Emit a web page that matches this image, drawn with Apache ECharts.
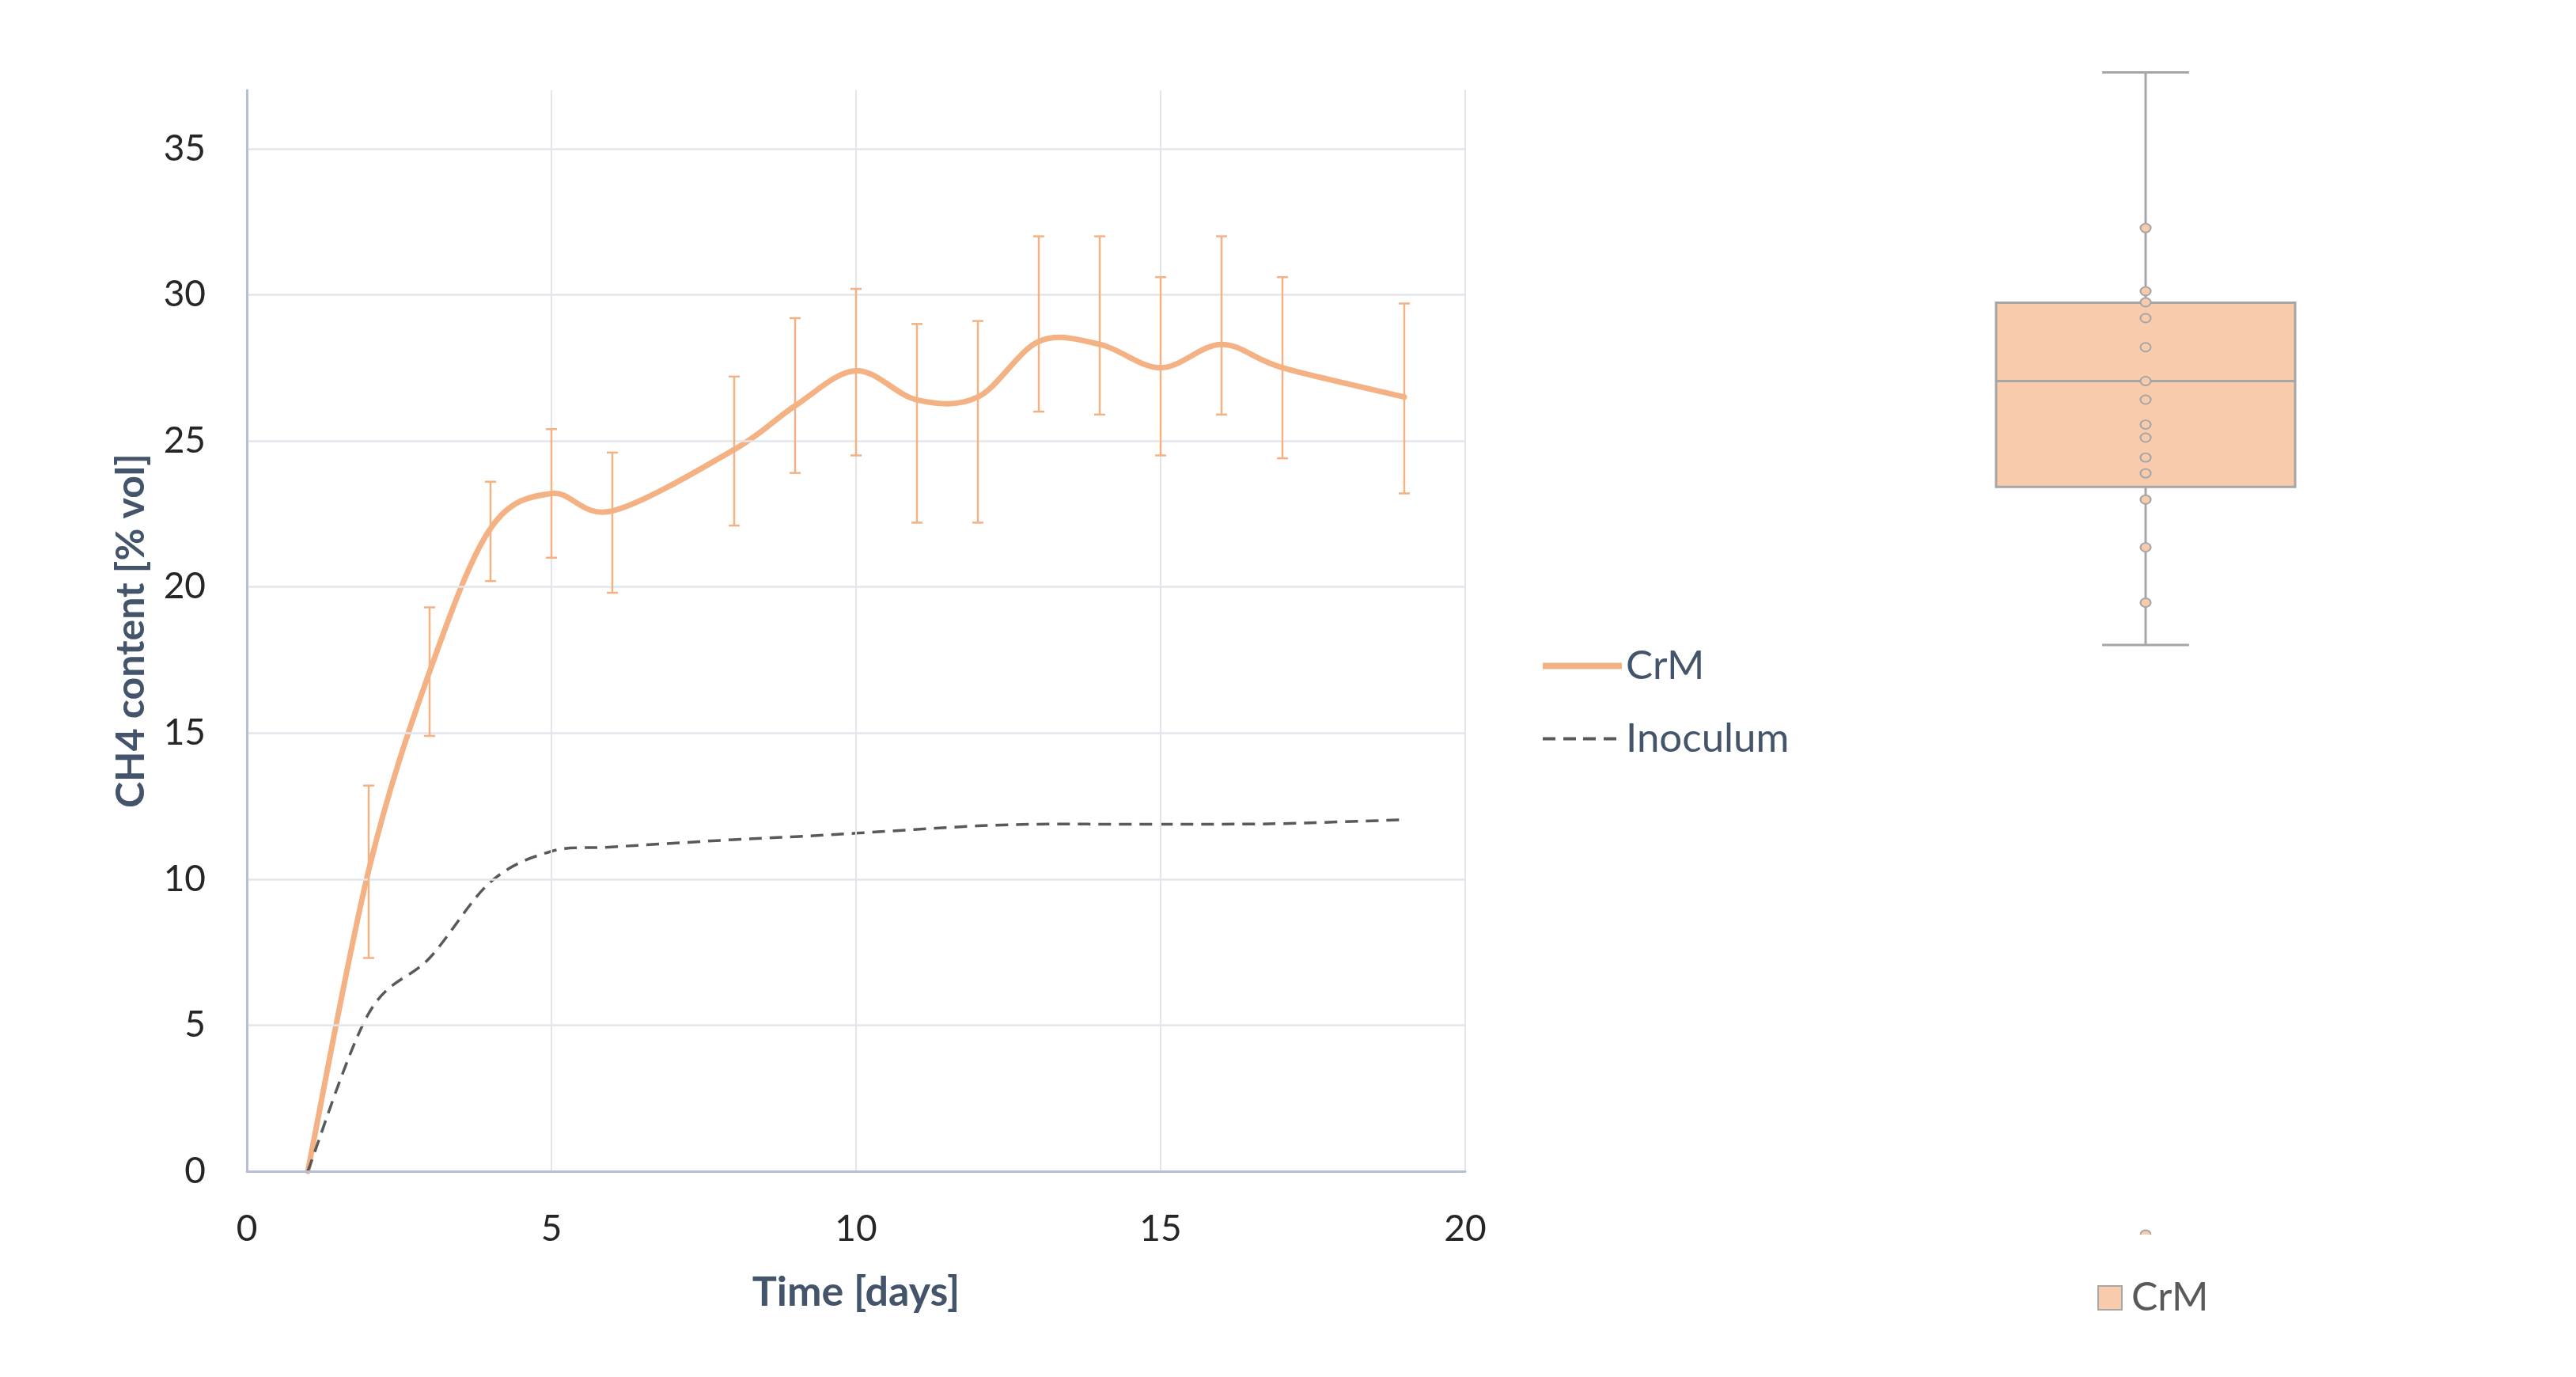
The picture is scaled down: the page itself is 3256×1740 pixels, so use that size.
<!DOCTYPE html>
<html>
<head>
<meta charset="utf-8">
<script src="https://cdn.jsdelivr.net/npm/echarts@6/dist/echarts.min.js"></script>
<style>
html,body{margin:0;padding:0;background:#ffffff;}
#chart{width:3256px;height:1740px;}
</style>
</head>
<body>
<div id="chart"></div>
<script>
// ---- data ----
const days      = [1, 2, 3, 4, 5, 6, 8, 9, 10, 11, 12, 13, 14, 15, 16, 17, 19];
const crm       = [0, 10.3, 17.1, 22.0, 23.2, 22.6, 24.7, 26.2, 27.4, 26.4, 26.5, 28.4, 28.3, 27.5, 28.3, 27.5, 26.5];
const crmLow    = [null, 7.3, 14.9, 20.2, 21.0, 19.8, 22.1, 23.9, 24.5, 22.2, 22.2, 26.0, 25.9, 24.5, 25.9, 24.4, 23.2];
const crmHigh   = [null, 13.2, 19.3, 23.6, 25.4, 24.6, 27.2, 29.2, 30.2, 29.0, 29.1, 32.0, 32.0, 30.6, 32.0, 30.6, 29.7];
const inoculum  = [0, 5.4, 7.3, 9.9, 10.95, 11.1, 11.35, 11.45, 11.57, 11.7, 11.82, 11.88, 11.88, 11.88, 11.88, 11.9, 12.03];
const xTickLabels = ['0', '5', '10', '15', '20'];
const yTickLabels = ['0', '5', '10', '15', '20', '25', '30', '35'];
const boxCategories = ['CrM'];
const boxStats    = [18.65, 23.65, 27.0, 29.48, 36.76];   // min, Q1, median, Q3, max
const boxPoints   = [31.84, 29.84, 29.49, 28.99, 28.07, 27.0, 26.41, 25.62, 25.21, 24.58, 24.08, 23.25, 21.74, 19.99];
const boxOutliers = [0];

// ---- styling ----
const FONT = 'Lato, "Open Sans", sans-serif';
const ORANGE = '#F4B183';
const BOXFILL = '#F8CBAD';
const GRAYLINE = '#A6A6A6';
const DASHGRAY = '#595959';
const AXIS = '#B4BFD3';
const GRID = '#E2E6EC';
const TITLE = '#44546A';

// smooth curve (Excel-like Catmull-Rom Bezier) through points given by the axis scale
function smoothPath(pts) {
  let d = 'M' + pts[0][0] + ',' + pts[0][1];
  for (let i = 0; i < pts.length - 1; i++) {
    const p0 = pts[i - 1] || pts[i], p1 = pts[i], p2 = pts[i + 1], p3 = pts[i + 2] || pts[i + 1];
    const c1x = p1[0] + (p2[0] - p0[0]) / 6, c1y = p1[1] + (p2[1] - p0[1]) / 6;
    const c2x = p2[0] - (p3[0] - p1[0]) / 6, c2y = p2[1] - (p3[1] - p1[1]) / 6;
    d += ' C' + c1x + ',' + c1y + ' ' + c2x + ',' + c2y + ' ' + p2[0] + ',' + p2[1];
  }
  return d;
}
function curveRenderer(xs, ys, style) {
  return function (params, api) {
    if (params.dataIndex !== 0) return null;
    const pts = xs.map((x, i) => api.coord([x, ys[i]]));
    return {type: 'path', shape: {pathData: smoothPath(pts)}, style: Object.assign({fill: null}, style)};
  };
}

const chart = echarts.init(document.getElementById('chart'), null, {renderer: 'canvas'});

const option = {
  backgroundColor: '#ffffff',
  animation: false,
  textStyle: {fontFamily: FONT},
  grid: [
    {left: 312, top: 114, width: 1540, height: 1366},
    {left: 2412, top: 82, width: 600, height: 1478}
  ],
  legend: [
    {
      data: [
        {name: 'CrM', icon: 'path://M0,0h100v8h-100z', itemStyle: {color: ORANGE}},
        {name: 'Inoculum', icon: 'path://M0,0h0.01v0.01h-0.01z M0,2h16v4h-16z M26,2h16v4h-16z M51,2h16v4h-16z M77,2h16v4h-16z M99.99,7.99h0.01v0.01h-0.01z', itemStyle: {color: DASHGRAY}}
      ],
      orient: 'vertical',
      left: 1945, top: 811,
      itemWidth: 100, itemHeight: 8, itemGap: 41,
      symbolKeepAspect: false,
      selectedMode: false,
      textStyle: {fontSize: 51, color: TITLE, fontFamily: FONT, lineHeight: 50, padding: [0, 0, 0, 0]}
    },
    {
      data: [{name: 'CrMBox', icon: 'rect', itemStyle: {color: BOXFILL, borderColor: GRAYLINE, borderWidth: 2}}],
      formatter: function () { return boxCategories[0]; },
      left: 2646, top: 1610,
      itemWidth: 30, itemHeight: 30,
      selectedMode: false,
      textStyle: {fontSize: 50, color: '#595959', fontFamily: FONT, padding: [0, 0, 0, 7]}
    }
  ],
  xAxis: [
    {
      type: 'value', gridIndex: 0, min: 0, max: 20, interval: 5,
      axisLine: {show: true, lineStyle: {color: AXIS, width: 3}},
      axisTick: {show: false},
      axisLabel: {
        fontSize: 46, color: '#262626', margin: 50, fontFamily: FONT,
        formatter: function (v) { const i = xTickLabels.indexOf(String(v)); return i >= 0 ? xTickLabels[i] : ''; }
      },
      splitLine: {show: true, lineStyle: {color: GRID, width: 2}},
      name: 'Time [days]', nameLocation: 'middle', nameGap: 127,
      nameTextStyle: {fontSize: 52, fontWeight: 'bold', color: TITLE, fontFamily: FONT},
      z: 4
    },
    {type: 'category', gridIndex: 1, data: boxCategories, show: false}
  ],
  yAxis: [
    {
      type: 'value', gridIndex: 0, min: 0, max: 37, interval: 5,
      axisLine: {show: true, lineStyle: {color: AXIS, width: 3}},
      axisTick: {show: false},
      axisLabel: {
        fontSize: 46, color: '#262626', margin: 52, fontFamily: FONT, showMaxLabel: false,
        formatter: function (v) { const i = yTickLabels.indexOf(String(v)); return i >= 0 ? yTickLabels[i] : ''; }
      },
      splitLine: {show: true, showMaxLine: false, lineStyle: {color: GRID, width: 2.5}},
      name: 'CH4 content [% vol]', nameLocation: 'middle', nameGap: 121,
      nameTextStyle: {fontSize: 50, fontWeight: 'bold', color: TITLE, fontFamily: FONT},
      z: 4
    },
    {type: 'value', gridIndex: 1, min: 0, max: 37, show: false}
  ],
  series: [
    {
      name: 'CrM', type: 'custom', xAxisIndex: 0, yAxisIndex: 0,
      data: days.map((d, i) => [d, crm[i]]),
      encode: {x: 0, y: 1},
      itemStyle: {color: ORANGE},
      z: 3,
      renderItem: curveRenderer(days, crm, {stroke: ORANGE, lineWidth: 7, lineCap: 'round', lineJoin: 'round'})
    },
    {
      name: 'Inoculum', type: 'custom', xAxisIndex: 0, yAxisIndex: 0,
      data: days.map((d, i) => [d, inoculum[i]]),
      encode: {x: 0, y: 1},
      itemStyle: {color: DASHGRAY},
      z: 3,
      renderItem: curveRenderer(days, inoculum, {stroke: DASHGRAY, lineWidth: 3.5, lineDash: [16, 10]})
    },
    {
      name: 'errorbars', type: 'custom', xAxisIndex: 0, yAxisIndex: 0,
      data: days.map((d, i) => crmLow[i] == null ? null : [d, crmLow[i], crmHigh[i]]).filter(v => v),
      encode: {x: 0, y: [1, 2]},
      z: 4,
      renderItem: function (params, api) {
        const x = api.value(0);
        const top = api.coord([x, api.value(2)]);
        const bot = api.coord([x, api.value(1)]);
        const cap = 7;
        const st = {stroke: ORANGE, lineWidth: 2.5};
        return {
          type: 'group',
          children: [
            {type: 'line', shape: {x1: top[0], y1: top[1], x2: bot[0], y2: bot[1]}, style: st},
            {type: 'line', shape: {x1: top[0] - cap, y1: top[1], x2: top[0] + cap, y2: top[1]}, style: st},
            {type: 'line', shape: {x1: bot[0] - cap, y1: bot[1], x2: bot[0] + cap, y2: bot[1]}, style: st}
          ]
        };
      }
    },
    {
      name: 'CrMBox', type: 'custom', xAxisIndex: 1, yAxisIndex: 1,
      data: [[0].concat(boxStats)],
      encode: {x: 0, y: [1, 2, 3, 4, 5]},
      itemStyle: {color: BOXFILL},
      z: 2,
      renderItem: function (params, api) {
        const c = api.value(0);
        const band = api.size([1, 0])[0];
        const bw = band * 0.63, cw = band * 0.183;
        const cx = api.coord([c, api.value(1)])[0];
        const y = [1, 2, 3, 4, 5].map(k => api.coord([c, api.value(k)])[1]);
        const ls = {stroke: GRAYLINE, lineWidth: 3};
        return {
          type: 'group',
          children: [
            {type: 'line', shape: {x1: cx, y1: y[0], x2: cx, y2: y[4]}, style: ls},
            {type: 'line', shape: {x1: cx - cw / 2, y1: y[0], x2: cx + cw / 2, y2: y[0]}, style: ls},
            {type: 'line', shape: {x1: cx - cw / 2, y1: y[4], x2: cx + cw / 2, y2: y[4]}, style: ls},
            {type: 'rect', shape: {x: cx - bw / 2, y: y[3], width: bw, height: y[1] - y[3]},
             style: {fill: BOXFILL, stroke: GRAYLINE, lineWidth: 3}},
            {type: 'line', shape: {x1: cx - bw / 2, y1: y[2], x2: cx + bw / 2, y2: y[2]}, style: ls}
          ]
        };
      }
    },
    {
      name: 'CrMPoints', type: 'scatter', xAxisIndex: 1, yAxisIndex: 1,
      data: boxPoints.map(v => [0, v]),
      symbol: 'circle', symbolSize: [13, 11],
      itemStyle: {color: BOXFILL, borderColor: GRAYLINE, borderWidth: 2, opacity: 1},
      z: 5
    },
    {
      name: 'CrMOutliers', type: 'custom', xAxisIndex: 1, yAxisIndex: 1,
      data: boxOutliers.map(v => [0, v]),
      encode: {x: 0, y: 1},
      clip: true,
      z: 5,
      renderItem: function (params, api) {
        const p = api.coord([api.value(0), api.value(1)]);
        return {type: 'ellipse', shape: {cx: p[0], cy: p[1], rx: 6.5, ry: 5.5},
                style: {fill: BOXFILL, stroke: GRAYLINE, lineWidth: 2}};
      }
    }
  ]
};

chart.setOption(option);
</script>
</body>
</html>
